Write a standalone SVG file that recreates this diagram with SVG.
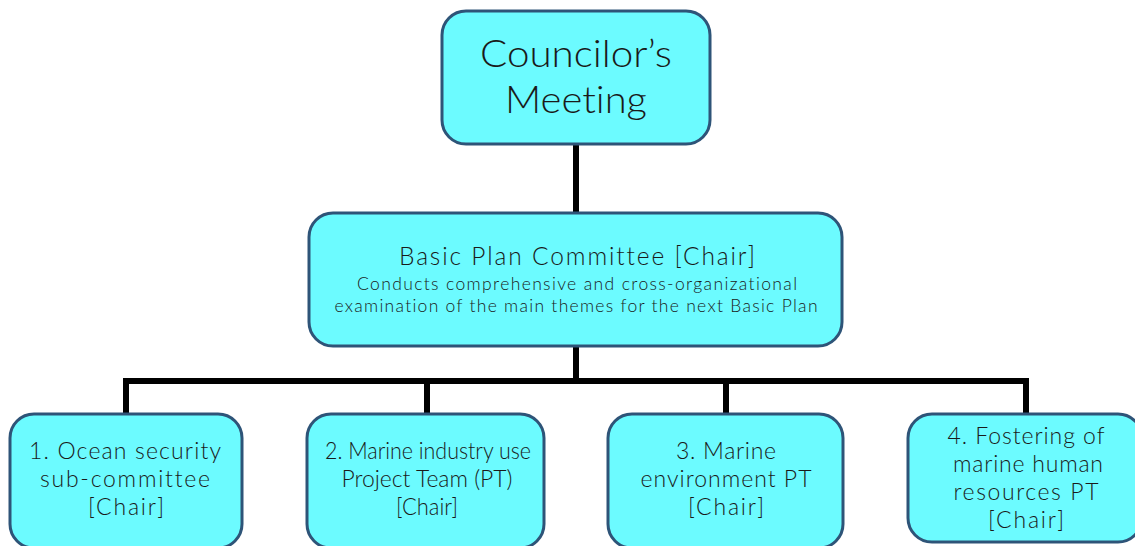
<svg xmlns="http://www.w3.org/2000/svg" width="1135" height="546" viewBox="0 0 1135 546">
<style>
.box{fill:#6cfbff;stroke:#2e5478;stroke-width:3}
.t{font-family:Lato,"Noto Sans",sans-serif;font-weight:300;fill:#1a1a1a;text-anchor:middle;font-variant-ligatures:none}
.c{fill:none;stroke:#000;stroke-width:6}
</style>
<rect width="1135" height="546" fill="#fff"/>
<g id="connectors">
<line class="c" x1="576" y1="145" x2="576" y2="214"/>
<line class="c" x1="576" y1="347" x2="576" y2="381"/>
<polyline class="c" points="126,414 126,381 1026,381 1026,414"/>
<line class="c" x1="427" y1="381" x2="427" y2="414"/>
<line class="c" x1="726" y1="381" x2="726" y2="414"/>
</g>
<g id="councilors-meeting">
<rect class="box" x="442" y="11" width="268" height="133" rx="24"/>
<text class="t" font-size="38" x="576" y="67" textLength="192" lengthAdjust="spacingAndGlyphs">Councilor’s</text>
<text class="t" font-size="38" x="576" y="113" textLength="142" lengthAdjust="spacingAndGlyphs">Meeting</text>
</g>
<g id="basic-plan-committee">
<rect class="box" x="309" y="213" width="533" height="133" rx="24"/>
<text class="t" font-size="24.5" x="577" y="265" textLength="356" lengthAdjust="spacing">Basic Plan Committee [Chair]</text>
<text class="t" font-size="17.5" x="577" y="290" textLength="440" lengthAdjust="spacing" fill="#24303c">Conducts comprehensive and cross-organizational</text>
<text class="t" font-size="17.5" x="576" y="312" textLength="483" lengthAdjust="spacing" fill="#24303c">examination of the main themes for the next Basic Plan</text>
</g>
<g id="ocean-security">
<rect class="box" x="10" y="414" width="232" height="134" rx="24"/>
<text class="t" font-size="23" x="125" y="459" textLength="192" lengthAdjust="spacing">1. Ocean security</text>
<text class="t" font-size="23" x="125" y="487" textLength="170" lengthAdjust="spacing">sub-committee</text>
<text class="t" font-size="23" x="126" y="515" textLength="76" lengthAdjust="spacing">[Chair]</text>
</g>
<g id="marine-industry">
<rect class="box" x="307" y="414" width="237" height="134" rx="24"/>
<text class="t" font-size="23" x="428" y="459" textLength="206" lengthAdjust="spacingAndGlyphs">2. Marine industry use</text>
<text class="t" font-size="23" x="427" y="487" textLength="171" lengthAdjust="spacingAndGlyphs">Project Team (PT)</text>
<text class="t" font-size="23" x="427" y="515" textLength="62" lengthAdjust="spacingAndGlyphs">[Chair]</text>
</g>
<g id="marine-environment">
<rect class="box" x="608" y="414" width="235" height="134" rx="24"/>
<text class="t" font-size="23" x="726" y="459" textLength="100" lengthAdjust="spacing">3. Marine</text>
<text class="t" font-size="23" x="726" y="487" textLength="171" lengthAdjust="spacing">environment PT</text>
<text class="t" font-size="23" x="726" y="515" textLength="76" lengthAdjust="spacing">[Chair]</text>
</g>
<g id="human-resources">
<rect class="box" x="908" y="414" width="234" height="128" rx="24"/>
<text class="t" font-size="23" x="1026" y="444" textLength="157" lengthAdjust="spacing">4. Fostering of</text>
<text class="t" font-size="23" x="1028" y="472" textLength="150" lengthAdjust="spacing">marine human</text>
<text class="t" font-size="23" x="1026" y="500" textLength="145" lengthAdjust="spacing">resources PT</text>
<text class="t" font-size="23" x="1026" y="528" textLength="76" lengthAdjust="spacing">[Chair]</text>
</g>
</svg>
